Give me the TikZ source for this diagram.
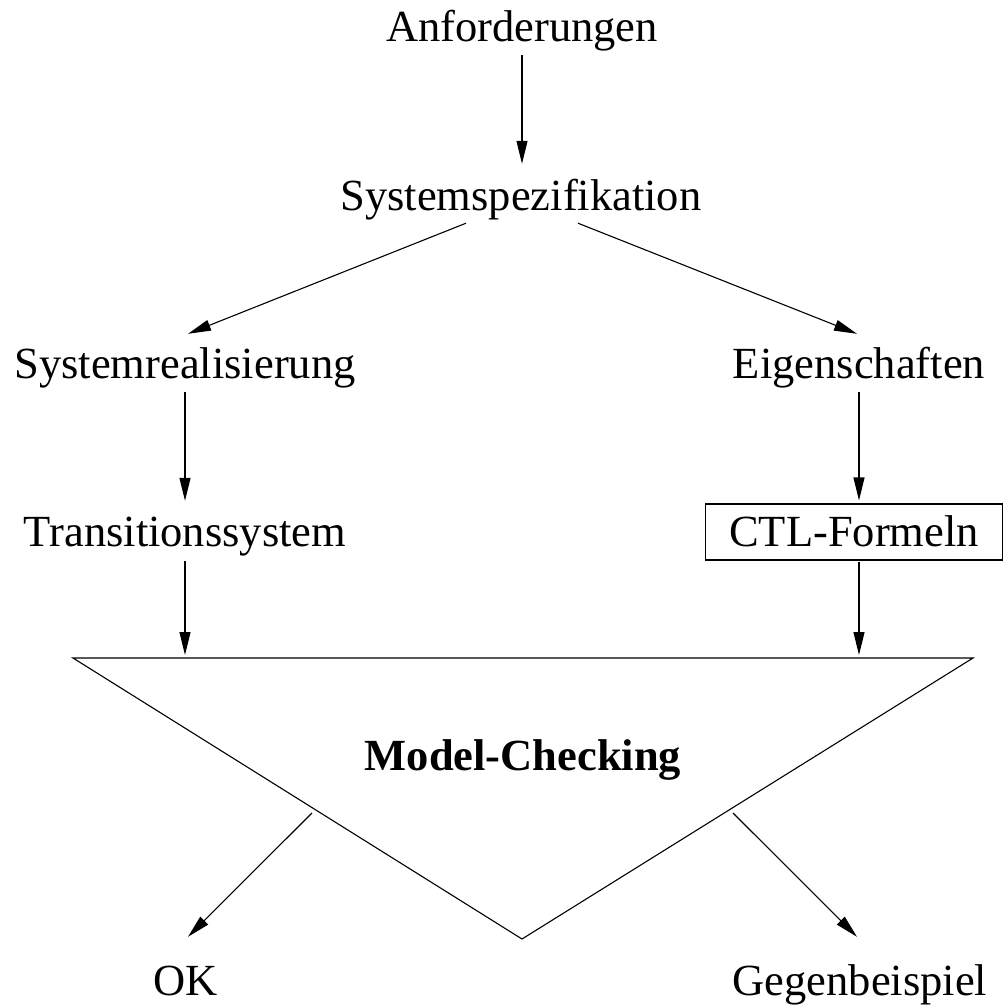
\documentclass[tikz,border=0pt]{standalone}
\usepackage{fontspec}
\setmainfont{Liberation Serif}
\usetikzlibrary{arrows.meta,calc}
\begin{document}
\begin{tikzpicture}[x=1pt,y=-1pt,
  lbl/.style={inner sep=0pt, anchor=base, text height=31pt, text depth=10pt, font=\fontsize{44.5}{50}\selectfont},
  arr/.style={line width=1.1pt, -{Triangle[length=23pt,width=11pt]}},
  ln/.style={line width=1.1pt, line join=miter}]
\useasboundingbox (0,0) rectangle (1003,1005);
% nodes
\node[lbl] (anf) at (522,41) {Anforderungen};
\node[lbl] (spez) at (521,210) {Systemspezifikation};
\node[lbl] (real) at (185,378) {Systemrealisierung};
\node[lbl] (eig) at (859,378) {Eigenschaften};
\node[lbl] (trans) at (185,546) {Transitionssystem};
\node[lbl, draw, line width=1.1pt, text height=42pt, text depth=14pt, minimum width=297pt] (ctl) at (854,546) {CTL-Formeln};
\node[lbl, font=\fontsize{44.5}{50}\selectfont\bfseries] (mc) at (523,770) {Model-Checking};
\node[lbl] (ok) at (186,995) {OK};
\node[lbl] (geg) at (860,995) {Gegenbeispiel};
% triangle
\coordinate (tl) at (73,658);
\coordinate (tr) at (973,658);
\coordinate (bt) at (522,939);
\draw[ln] (tl) -- (tr) -- (bt) -- cycle;
% connectors
\draw[arr] ($(anf.south)+(0,4)$) -- ($(spez.north)+(1,-15)$);
\draw[arr] ($(spez.south)+(-55,3)$) -- ($(real.north)+(3,-13)$);
\draw[arr] ($(spez.south)+(57,3)$) -- ($(eig.north)+(-2,-13)$);
\draw[arr] ($(real.south)+(0,4)$) -- ($(trans.north)+(0,-14)$);
\draw[arr] ($(eig.south)+(0,4)$) -- ($(eig.south |- ctl.north)+(0,-3)$);
\draw[arr] ($(trans.south)+(0,5)$) -- ($(trans.south |- tl)+(0,-3)$);
\draw[arr] ($(eig.south |- ctl.south)+(0,1)$) -- ($(eig.south |- tr)+(0,-3)$);
\coordinate (okstart) at (312,813);
\coordinate (gegstart) at (733,813);
\draw[arr] (okstart) -- ($(ok.north)+(2,-27)$);
\draw[arr] (gegstart) -- ($(geg.north)+(-3,-27)$);
\end{tikzpicture}
\end{document}
